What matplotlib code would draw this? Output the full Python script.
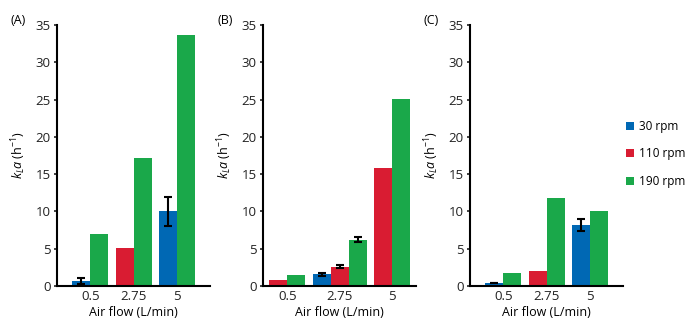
import numpy as np
import matplotlib
matplotlib.use("Agg")
from matplotlib import pyplot as plt
from matplotlib.lines import Line2D

plt.rcParams['font.family'] = ['Open Sans', 'DejaVu Sans']
plt.rcParams['mathtext.fontset'] = 'custom'
plt.rcParams['mathtext.rm'] = 'Open Sans'
plt.rcParams['mathtext.it'] = 'Open Sans:italic'

flows = ['0.5', '2.75', '5']
speeds = ['30 rpm', '110 rpm', '190 rpm']
colors = ['#0068b4', '#d91c32', '#1aa84a']

# kLa values per panel (None = no bar)
a_30 = [0.7, None, 10.0]
a_110 = [None, 5.1, None]
a_190 = [7.0, 17.2, 33.7]
a_30_err = [0.4, None, 2.0]
a_110_err = [None, None, None]
a_190_err = [None, None, None]

b_30 = [None, 1.6, None]
b_110 = [0.8, 2.55, 15.8]
b_190 = [1.5, 6.2, 25.1]
b_30_err = [None, 0.2, None]
b_110_err = [None, 0.2, None]
b_190_err = [None, 0.33, None]

c_30 = [0.4, None, 8.2]
c_110 = [None, 2.0, None]
c_190 = [1.75, 11.8, 10.05]
c_30_err = [0.05, None, 0.85]
c_110_err = [None, None, None]
c_190_err = [None, None, None]

panels = [
    ('(A)', [a_30, a_110, a_190], [a_30_err, a_110_err, a_190_err]),
    ('(B)', [b_30, b_110, b_190], [b_30_err, b_110_err, b_190_err]),
    ('(C)', [c_30, c_110, c_190], [c_30_err, c_110_err, c_190_err]),
]

GAP = 0.4      # gap between groups, in bar widths
SPAN = 8.5     # axis width, in bar widths

fig = plt.figure(figsize=(6.91, 3.22), dpi=100)
lefts = [57, 263, 470]
for p, (tag, vals, errs) in enumerate(panels):
    ax = fig.add_axes([lefts[p] / 691, 1 - 286 / 322, 153 / 691, 261 / 322])
    x = 0.0
    centers = []
    for i in range(len(flows)):
        present = [j for j in range(3) if vals[j][i] is not None]
        for k, j in enumerate(present):
            xc = x + 0.5 + k
            ax.bar(xc, vals[j][i], width=1.0, color=colors[j], linewidth=0)
            if errs[j][i] is not None:
                ax.errorbar(xc, vals[j][i], yerr=errs[j][i], color='black',
                            capsize=3, elinewidth=1.5, capthick=1.5)
        centers.append(x + len(present) / 2)
        x += len(present) + GAP
    total = x - GAP
    pad = (SPAN - total) / 2
    ax.set_xlim(-pad, total + pad)
    ax.set_ylim(0, 35)
    ax.set_xticks(centers)
    ax.set_xticklabels(flows)
    ax.set_yticks(np.arange(0, 36, 5))
    ax.tick_params(axis='x', length=0, labelsize=9.5, pad=3, colors='#222222')
    ax.tick_params(axis='y', length=2.5, width=1.2, labelsize=9.5, pad=2, colors='#222222')
    for s in ['top', 'right']:
        ax.spines[s].set_visible(False)
    for s in ['left', 'bottom']:
        ax.spines[s].set_linewidth(1.5)
    ax.set_xlabel('Air flow (L/min)', fontsize=9, labelpad=2)
    ax.set_ylabel(r'$k_La$ (h$^{-1}$)', fontsize=9)
    ax.yaxis.set_label_coords(-0.19, 0.5)
    fig.text((lefts[p] - 46) / 691, 1 - 20 / 322, tag, fontsize=9, va='center')

handles = [Line2D([], [], marker='s', linestyle='none', markersize=6,
                  markerfacecolor=c, markeredgewidth=0) for c in colors]
fig.legend(handles, speeds, loc='center left', bbox_to_anchor=(613 / 691, 1 - 154 / 322),
           frameon=False, fontsize=8.5, handlelength=1.0, handletextpad=0.3,
           labelspacing=1.25)

fig.savefig('out.png', dpi=100)
